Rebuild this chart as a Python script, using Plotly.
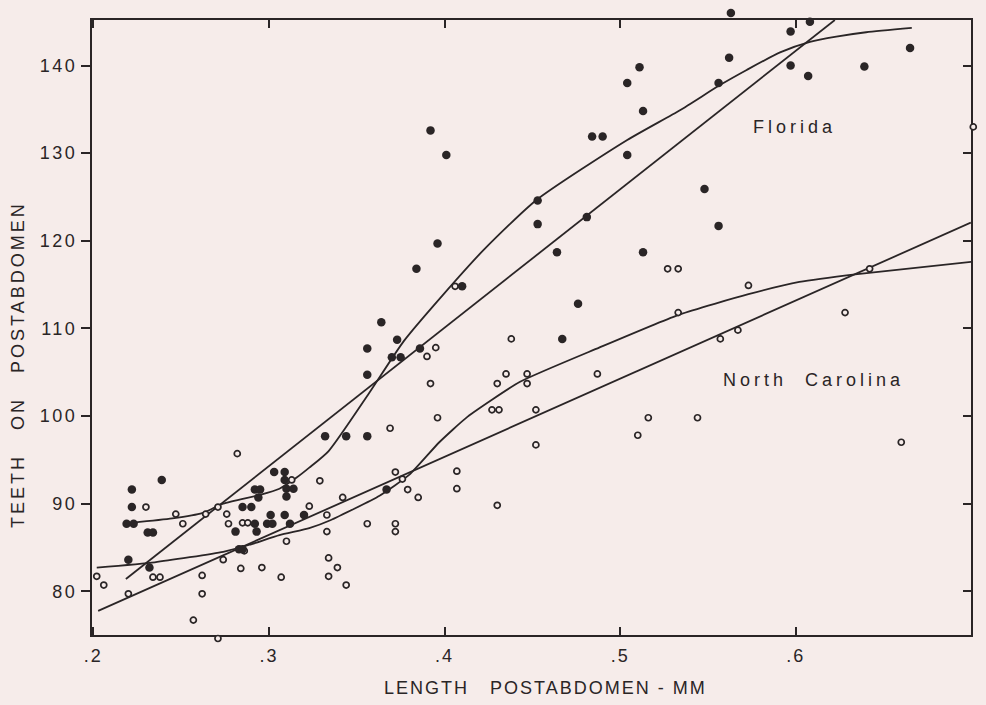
import plotly.graph_objects as go

# ---------------- data ----------------
fl_x = [0.239, 0.222, 0.222, 0.219, 0.223, 0.231, 0.234, 0.220, 0.232,
        0.303, 0.309, 0.309, 0.292, 0.295, 0.294, 0.310, 0.314, 0.310,
        0.285, 0.290, 0.301, 0.309, 0.320, 0.281, 0.292, 0.293, 0.299,
        0.302, 0.312, 0.283, 0.285, 0.332, 0.344, 0.356, 0.367, 0.384,
        0.364, 0.373, 0.356, 0.370, 0.375, 0.386, 0.356, 0.410, 0.453,
        0.453, 0.396, 0.481, 0.464, 0.513, 0.476, 0.467, 0.563, 0.562,
        0.556, 0.511, 0.504, 0.513, 0.484, 0.490, 0.504, 0.548, 0.597,
        0.608, 0.597, 0.607, 0.639, 0.665, 0.556, 0.392, 0.401]
fl_y = [92.7, 91.6, 89.6, 87.7, 87.7, 86.7, 86.7, 83.6, 82.7,
        93.6, 93.6, 92.7, 91.6, 91.6, 90.7, 91.7, 91.7, 90.8,
        89.6, 89.6, 88.7, 88.7, 88.7, 86.8, 87.7, 86.8, 87.7,
        87.7, 87.7, 84.8, 84.8, 97.7, 97.7, 97.7, 91.6, 116.8,
        110.7, 108.7, 107.7, 106.7, 106.7, 107.7, 104.7, 114.8, 124.6,
        121.9, 119.7, 122.7, 118.7, 118.7, 112.8, 108.8, 146.0, 140.9,
        138.0, 139.8, 138.0, 134.8, 131.9, 131.9, 129.8, 125.9, 143.9,
        145.0, 140.0, 138.8, 139.9, 142.0, 121.7, 132.6, 129.8]

nc_x = [0.282, 0.230, 0.247, 0.251, 0.264, 0.271, 0.276, 0.277, 0.234,
        0.238, 0.262, 0.274, 0.202, 0.206, 0.220, 0.262, 0.257, 0.271,
        0.284, 0.296, 0.286, 0.313, 0.329, 0.285, 0.288, 0.323, 0.333,
        0.333, 0.310, 0.334, 0.342, 0.356, 0.372, 0.372, 0.372, 0.376,
        0.379, 0.385, 0.392, 0.396, 0.369, 0.339, 0.334, 0.344, 0.307,
        0.406, 0.395, 0.390, 0.430, 0.427, 0.431, 0.527, 0.533, 0.533,
        0.487, 0.438, 0.435, 0.447, 0.447, 0.452, 0.452, 0.516, 0.510,
        0.544, 0.407, 0.407, 0.701, 0.573, 0.642, 0.628, 0.557, 0.567,
        0.660, 0.430]
nc_y = [95.7, 89.6, 88.8, 87.7, 88.8, 89.6, 88.8, 87.7, 81.6,
        81.6, 81.8, 83.6, 81.7, 80.7, 79.7, 79.7, 76.7, 74.6,
        82.6, 82.7, 84.6, 92.7, 92.6, 87.8, 87.8, 89.7, 88.7,
        86.8, 85.7, 83.8, 90.7, 87.7, 87.7, 86.8, 93.6, 92.8,
        91.6, 90.7, 103.7, 99.8, 98.6, 82.7, 81.7, 80.7, 81.6,
        114.8, 107.8, 106.8, 103.7, 100.7, 100.7, 116.8, 116.8, 111.8,
        104.8, 108.8, 104.8, 104.8, 103.7, 100.7, 96.7, 99.8, 97.8,
        99.8, 93.7, 91.7, 133.0, 114.9, 116.8, 111.8, 108.8, 109.8,
        97.0, 89.8]

# fitted curves
fl_curve_x = [0.222, 0.245, 0.262, 0.274, 0.295, 0.306, 0.316, 0.323, 0.334,
              0.357, 0.377, 0.399, 0.422, 0.452, 0.504, 0.534, 0.557,
              0.572, 0.591, 0.608, 0.623, 0.640, 0.666]
fl_curve_y = [87.8, 88.3, 88.9, 90.0, 91.0, 91.7, 93.0, 94.1, 96.0,
              102.6, 108.6, 113.8, 118.9, 124.6, 131.5, 134.9, 137.8,
              139.5, 141.5, 142.7, 143.3, 143.8, 144.3]
nc_curve_x = [0.202, 0.235, 0.274, 0.289, 0.306, 0.323, 0.335, 0.363, 0.380,
              0.397, 0.413, 0.443, 0.488, 0.534, 0.573, 0.602, 0.635, 0.700]
nc_curve_y = [82.7, 83.3, 84.5, 85.3, 86.4, 87.2, 88.1, 90.9, 93.3,
              97.0, 99.9, 103.9, 107.8, 111.6, 113.9, 115.3, 116.2, 117.6]

# straight regression lines (end points)
fl_line_x = [0.2186, 0.6222]
fl_line_y = [81.4, 145.2]
nc_line_x = [0.2028, 0.6996]
nc_line_y = [77.75, 122.07]

x_ticks = [0.2, 0.3, 0.4, 0.5, 0.6, 0.7]
x_tick_labels = [".2", ".3", ".4", ".5", ".6", ".7"]
y_ticks = [80, 90, 100, 110, 120, 130, 140]
y_tick_labels = ["80", "90", "100", "110", "120", "130", "140"]

# ---------------- styling / geometry ----------------
INK = "#2a2526"
BG = "#f6ecea"
FONT = "Liberation Sans"
W, H = 986, 705
FRAME_L, FRAME_R, FRAME_T, FRAME_B = 92, 971, 20, 635   # pixel frame of the plot box
X_RANGE = [0.1993, 0.6997]
Y_RANGE = [75.0, 145.2]

x_dom = [FRAME_L / W, FRAME_R / W]
y_dom = [(H - FRAME_B) / H, (H - FRAME_T) / H]

# a full-page companion axis pair with the very same data->pixel scale,
# so marks just outside the box (as in the original) are still drawn
x_per_px = (X_RANGE[1] - X_RANGE[0]) / (FRAME_R - FRAME_L)
y_per_px = (Y_RANGE[1] - Y_RANGE[0]) / (FRAME_B - FRAME_T)
X_FULL = [X_RANGE[0] - FRAME_L * x_per_px, X_RANGE[1] + (W - FRAME_R) * x_per_px]
Y_FULL = [Y_RANGE[0] - (H - FRAME_B) * y_per_px, Y_RANGE[1] + FRAME_T * y_per_px]


def spaced(text, px):
    return '<span style="letter-spacing:%spx">%s</span>' % (px, text)


fig = go.Figure()

line_style = dict(color=INK, width=1.8)
fig.add_trace(go.Scatter(x=fl_line_x, y=fl_line_y, mode="lines", line=line_style,
                         hoverinfo="skip", showlegend=False))
fig.add_trace(go.Scatter(x=nc_line_x, y=nc_line_y, mode="lines", line=line_style,
                         hoverinfo="skip", showlegend=False))
fig.add_trace(go.Scatter(x=fl_curve_x, y=fl_curve_y, mode="lines",
                         line=dict(color=INK, width=1.8, shape="spline", smoothing=0.6),
                         hoverinfo="skip", showlegend=False))
fig.add_trace(go.Scatter(x=nc_curve_x, y=nc_curve_y, mode="lines",
                         line=dict(color=INK, width=1.8, shape="spline", smoothing=0.5),
                         hoverinfo="skip", showlegend=False))
# carrier for the right-hand tick axis
fig.add_trace(go.Scatter(x=[None], y=[None], yaxis="y2", mode="markers",
                         showlegend=False, hoverinfo="skip"))

fig.add_trace(go.Scatter(x=nc_x, y=nc_y, mode="markers", name="North Carolina",
                         xaxis="x2", yaxis="y3", cliponaxis=False,
                         marker=dict(symbol="circle", size=6, color=BG,
                                     line=dict(color=INK, width=1.7)),
                         showlegend=False))
fig.add_trace(go.Scatter(x=fl_x, y=fl_y, mode="markers", name="Florida",
                         xaxis="x2", yaxis="y3", cliponaxis=False,
                         marker=dict(symbol="circle", size=8.5, color=INK,
                                     line=dict(width=0)),
                         showlegend=False))

tick_font = dict(family=FONT, size=18, color=INK)
fig.update_layout(
    width=W, height=H,
    margin=dict(l=0, r=0, t=0, b=0, pad=0, autoexpand=False),
    paper_bgcolor=BG, plot_bgcolor="rgba(0,0,0,0)",
    font=dict(family=FONT, color=INK, size=18),
    xaxis=dict(domain=x_dom, range=X_RANGE, tickvals=x_ticks,
               ticktext=[spaced(t, 2) for t in x_tick_labels],
               ticks="inside", ticklen=8, tickwidth=2, tickcolor=INK,
               showline=True, linewidth=2, linecolor=INK, mirror="ticks",
               showgrid=False, zeroline=False, ticklabelstandoff=3,
               tickfont=tick_font, anchor="y", automargin=False),
    yaxis=dict(domain=y_dom, range=Y_RANGE, tickvals=y_ticks,
               ticktext=[spaced(t, 2.5) for t in y_tick_labels],
               ticks="outside", ticklen=9, tickwidth=2, tickcolor=INK,
               showline=True, linewidth=2, linecolor=INK, mirror=True,
               showgrid=False, zeroline=False, tickfont=tick_font, anchor="x",
               automargin=False),
    yaxis2=dict(range=Y_RANGE, tickvals=y_ticks, overlaying="y", side="right",
                anchor="x", ticks="inside", ticklen=8, tickwidth=2, tickcolor=INK,
                showticklabels=False, showline=False, showgrid=False, zeroline=False),
    xaxis2=dict(domain=[0, 1], range=X_FULL, anchor="y3", visible=False,
                showgrid=False, zeroline=False),
    yaxis3=dict(domain=[0, 1], range=Y_FULL, anchor="x2", visible=False,
                showgrid=False, zeroline=False),
    annotations=[
        dict(text=spaced("Florida", 4), x=0.5995, y=133.0, xref="x", yref="y",
             showarrow=False, font=dict(family=FONT, size=18, color=INK)),
        dict(text=spaced("North  Carolina", 4), x=0.6098, y=104.1, xref="x", yref="y",
             showarrow=False, font=dict(family=FONT, size=18, color=INK)),
        dict(text=spaced("LENGTH   POSTABDOMEN - MM", 2), x=545 / W, y=(H - 688) / H,
             xref="paper", yref="paper", showarrow=False, yanchor="middle",
             font=dict(family=FONT, size=18, color=INK)),
        dict(text=spaced("TEETH   ON   POSTABDOMEN", 3), x=17.5 / W, y=(H - 364.5) / H,
             textangle=-90, xref="paper", yref="paper", showarrow=False,
             xanchor="center", yanchor="middle",
             font=dict(family=FONT, size=18, color=INK)),
    ],
)

fig.write_html("out.html", config={"displayModeBar": False},
               post_script="document.body.style.margin='0px';")
